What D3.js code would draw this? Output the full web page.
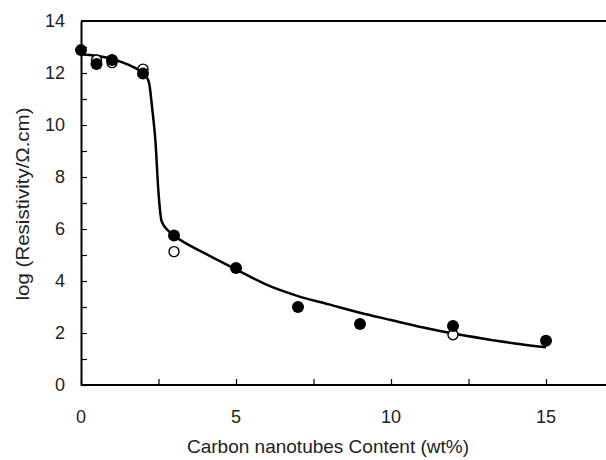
<!DOCTYPE html>
<html>
<head>
<meta charset="utf-8">
<script src="https://cdn.jsdelivr.net/npm/d3@7"></script>
<style>
  html, body { margin: 0; padding: 0; background: #fff; }
  svg { display: block; font-family: "Liberation Sans", Arial, sans-serif; }
</style>
</head>
<body>
<div id="chart"></div>
<script>
// measured points
const filledX = [0, 0.5, 1, 2, 3, 5, 7, 9, 12, 15];
const filledY = [12.88, 12.35, 12.5, 11.98, 5.75, 4.5, 3.0, 2.35, 2.27, 1.7];
const openX = [0.5, 1, 2, 3, 12];
const openY = [12.5, 12.4, 12.15, 5.13, 1.93];

// fitted curve
const fitX = [0, 0.5, 1, 1.5, 2, 2.1, 2.2, 2.3, 2.4, 2.5, 2.6, 2.8, 3, 4, 5, 6, 7, 8, 9, 10, 11, 12, 13, 14, 15];
const fitY = [12.72, 12.66, 12.54, 12.33, 12.0, 11.88, 11.6, 10.6, 9.4, 7.4, 6.3, 5.95, 5.75, 5.06, 4.45, 3.85, 3.42, 3.1, 2.78, 2.5, 2.22, 1.98, 1.78, 1.6, 1.45];

const xTicks = [0, 5, 10, 15];
const yTicks = [0, 2, 4, 6, 8, 10, 12, 14];

const W = 606, H = 460;
const margin = { top: 21, right: -2, bottom: 75, left: 81 };

const svg = d3.select("#chart").append("svg")
  .attr("width", W).attr("height", H);

const x = d3.scaleLinear().domain([0, 17]).range([margin.left, W - margin.right]);
const y = d3.scaleLinear().domain([0, 14]).range([H - margin.bottom, margin.top]);

// Top frame line
svg.append("line")
  .attr("x1", x(0)).attr("x2", W)
  .attr("y1", y(14)).attr("y2", y(14))
  .attr("stroke", "#000").attr("stroke-width", 2);

// X axis (ticks inward)
svg.append("g")
  .attr("transform", `translate(0,${y(0)})`)
  .call(d3.axisBottom(x).tickValues(d3.range(0, 17.6, 2.5)).tickSizeInner(-6).tickSizeOuter(0).tickFormat(""))
  .call(g => g.select(".domain").attr("stroke-width", 2).attr("d", `M${x(0)},0H${W}`))
  .call(g => g.selectAll(".tick line").attr("stroke-width", 1.2));

svg.append("g")
  .selectAll("text").data(xTicks).enter().append("text")
  .attr("x", d => x(d)).attr("y", y(0) + 38)
  .attr("text-anchor", "middle")
  .attr("font-size", "18px").attr("fill", "#222")
  .text(d => d);

// Y axis (ticks inward)
svg.append("g")
  .attr("transform", `translate(${x(0)},0)`)
  .call(d3.axisLeft(y).tickValues(d3.range(0, 14.1, 1)).tickSizeInner(-6).tickSizeOuter(0).tickFormat(""))
  .call(g => g.select(".domain").attr("stroke-width", 2))
  .call(g => g.selectAll(".tick line").attr("stroke-width", 1.2));

svg.append("g")
  .selectAll("text").data(yTicks).enter().append("text")
  .attr("x", x(0) - 16).attr("y", d => y(d)).attr("dy", "0.36em")
  .attr("text-anchor", "end")
  .attr("font-size", "18px").attr("fill", "#222")
  .text(d => d);

// Axis titles
svg.append("text")
  .attr("x", 328).attr("y", 453)
  .attr("text-anchor", "middle")
  .attr("font-size", "19px").attr("fill", "#222")
  .text("Carbon nanotubes Content (wt%)");

svg.append("text")
  .attr("transform", `translate(29,204) rotate(-90)`)
  .attr("text-anchor", "middle")
  .attr("font-size", "19px").attr("fill", "#222")
  .attr("textLength", 193).attr("lengthAdjust", "spacingAndGlyphs")
  .text("log (Resistivity/Ω.cm)");

// Fit curve
const fit = fitX.map((d, i) => [d, fitY[i]]);
svg.append("path")
  .datum(fit)
  .attr("fill", "none").attr("stroke", "#000").attr("stroke-width", 2.5)
  .attr("d", d3.line().x(d => x(d[0])).y(d => y(d[1])).curve(d3.curveMonotoneX));

// Open circles
svg.append("g").selectAll("circle")
  .data(openX.map((d, i) => [d, openY[i]])).enter().append("circle")
  .attr("cx", d => x(d[0])).attr("cy", d => y(d[1])).attr("r", 5)
  .attr("fill", "#fff").attr("stroke", "#000").attr("stroke-width", 1.4);

// Filled circles
svg.append("g").selectAll("circle")
  .data(filledX.map((d, i) => [d, filledY[i]])).enter().append("circle")
  .attr("cx", d => x(d[0])).attr("cy", d => y(d[1])).attr("r", 6)
  .attr("fill", "#000");
</script>
</body>
</html>
